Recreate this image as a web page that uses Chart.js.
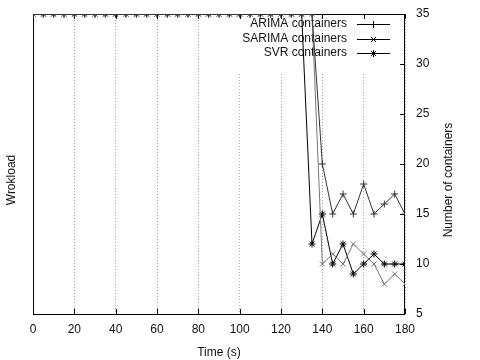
<!DOCTYPE html>
<html>
<head>
<meta charset="utf-8">
<script src="https://cdn.jsdelivr.net/npm/chart.js@4"></script>
<style>
	html, body { margin: 0; padding: 0; background: #fff; }
	#wrap { width: 480px; height: 360px; }
</style>
</head>
<body>
<div id="wrap"><canvas id="myChart" width="480" height="360"></canvas></div>
<script>
// time axis, one sample every 5 s
const times = [0, 5, 10, 15, 20, 25, 30, 35, 40, 45, 50, 55, 60, 65, 70, 75, 80, 85, 90,
	95, 100, 105, 110, 115, 120, 125, 130, 135, 140, 145, 150, 155, 160, 165, 170, 175, 180];

const arimaContainers = [35, 35, 35, 35, 35, 35, 35, 35, 35, 35, 35, 35, 35, 35, 35, 35, 35, 35, 35,
	35, 35, 35, 35, 35, 35, 35, 35, 35, 20, 15, 17, 15, 18, 15, 16, 17, 15];
const sarimaContainers = [35, 35, 35, 35, 35, 35, 35, 35, 35, 35, 35, 35, 35, 35, 35, 35, 35, 35, 35,
	35, 35, 35, 35, 35, 35, 35, 35, 35, 10, 11, 10, 12, 11, 10, 8, 9, 8];
const svrContainers = [35, 35, 35, 35, 35, 35, 35, 35, 35, 35, 35, 35, 35, 35, 35, 35, 35, 35, 35,
	35, 35, 35, 35, 35, 35, 35, 35, 12, 15, 10, 12, 9, 10, 11, 10, 10, 10];

const seriesNames = ['ARIMA containers', 'SARIMA containers', 'SVR containers'];
const xTicks = [0, 20, 40, 60, 80, 100, 120, 140, 160, 180];
const y2Ticks = [5, 10, 15, 20, 25, 30, 35];

const FONT = 'Liberation Sans, Arial, sans-serif';
const styles = [
	{ color: '#333', point: 'cross' },
	{ color: '#777', point: 'crossRot' },
	{ color: '#000', point: 'star' }
];

function toPoints(values) {
	return times.map((t, i) => ({ x: t, y: values[i] }));
}

const allSeries = [arimaContainers, sarimaContainers, svrContainers];

// gnuplot-like frame, inward ticks, legend box and axis titles
const gnuplotLook = {
	id: 'gnuplotLook',
	beforeDatasetsDraw(chart) {
		const ctx = chart.ctx;
		const a = chart.chartArea;
		const xs = chart.scales.x;
		const ys = chart.scales.y2;
		ctx.save();

		// legend background hides the grid
		ctx.fillStyle = '#fff';
		ctx.fillRect(236, a.top + 1, a.right - 237, 58);

		// frame
		ctx.strokeStyle = '#000';
		ctx.lineWidth = 1;
		ctx.strokeRect(Math.round(a.left) + 0.5, Math.round(a.top) + 0.5,
			Math.round(a.right - a.left) - 1, Math.round(a.bottom - a.top));

		// x ticks bottom and top
		ctx.beginPath();
		xTicks.forEach(v => {
			const px = Math.round(xs.getPixelForValue(v)) + 0.5;
			ctx.moveTo(px, a.bottom);
			ctx.lineTo(px, a.bottom - 5);
			ctx.moveTo(px, a.top);
			ctx.lineTo(px, a.top + 5);
		});
		// y2 ticks on the right
		y2Ticks.forEach(v => {
			const py = Math.round(ys.getPixelForValue(v)) + 0.5;
			ctx.moveTo(a.right, py);
			ctx.lineTo(a.right - 5, py);
		});
		ctx.stroke();

		// legend
		ctx.font = '12px ' + FONT;
		ctx.textAlign = 'right';
		ctx.textBaseline = 'middle';
		seriesNames.forEach((name, i) => {
			const y = 24 + i * 14.5;
			ctx.fillStyle = '#111';
			ctx.fillText(name, 347, y);
			ctx.strokeStyle = '#000';
			ctx.beginPath();
			ctx.moveTo(357, Math.round(y) + 0.5);
			ctx.lineTo(390, Math.round(y) + 0.5);
			ctx.stroke();
			Chart.helpers.drawPoint(ctx, {
				pointStyle: styles[i].point, radius: 3.5, rotation: 0, borderWidth: 1
			}, 373.5, Math.round(y) + 0.5);
		});

		// axis titles
		ctx.fillStyle = '#111';
		ctx.textAlign = 'center';
		ctx.save();
		ctx.translate(12, 180);
		ctx.rotate(-Math.PI / 2);
		ctx.fillText('Wrokload', 0, 0);
		ctx.restore();
		ctx.save();
		ctx.translate(449, 180);
		ctx.rotate(-Math.PI / 2);
		ctx.fillText('Number of containers', 0, 0);
		ctx.restore();

		ctx.restore();
	}
};

const ctx = document.getElementById('myChart');

new Chart(ctx, {
	type: 'line',
	data: {
		datasets: allSeries.map((values, i) => ({
			label: seriesNames[i],
			data: toPoints(values),
			yAxisID: 'y2',
			borderColor: styles[i].color,
			backgroundColor: styles[i].color,
			pointBorderColor: styles[i].color,
			borderWidth: 1,
			pointStyle: styles[i].point,
			pointRadius: 3.5,
			pointBorderWidth: 1,
			tension: 0,
			fill: false
		}))
	},
	options: {
		responsive: false,
		animation: false,
		layout: { padding: { top: 14, left: 0, right: 0, bottom: 0 } },
		plugins: {
			legend: { display: false },
			tooltip: { enabled: false }
		},
		scales: {
			x: {
				type: 'linear',
				min: 0,
				max: 180,
				afterBuildTicks(scale) {
					scale.ticks = xTicks.map(v => ({ value: v }));
				},
				ticks: { color: '#111', font: { family: FONT, size: 12 }, padding: 8, maxRotation: 0 },
				grid: { color: '#aaa', drawTicks: false },
				border: { display: false, dash: [1, 2] },
				title: {
					display: true,
					text: 'Time (s)',
					color: '#111',
					font: { family: FONT, size: 12 },
					padding: { top: 2, bottom: 0 }
				},
				afterFit(scale) { scale.height = 46; }
			},
			y: {
				position: 'left',
				min: 0,
				max: 1,
				ticks: { display: false },
				grid: { display: false, drawTicks: false },
				border: { display: false },
				afterFit(scale) {
					scale.width = 33;
					scale.paddingTop = 0;
					scale.paddingBottom = 0;
				}
			},
			y2: {
				position: 'right',
				min: 5,
				max: 35,
				afterBuildTicks(scale) {
					scale.ticks = y2Ticks.map(v => ({ value: v }));
				},
				ticks: { color: '#111', font: { family: FONT, size: 12 }, padding: 11 },
				grid: { display: false, drawTicks: false },
				border: { display: false },
				afterFit(scale) {
					scale.width = 75;
					scale.paddingTop = 0;
					scale.paddingBottom = 0;
				}
			}
		}
	},
	plugins: [gnuplotLook]
});
</script>
</body>
</html>
